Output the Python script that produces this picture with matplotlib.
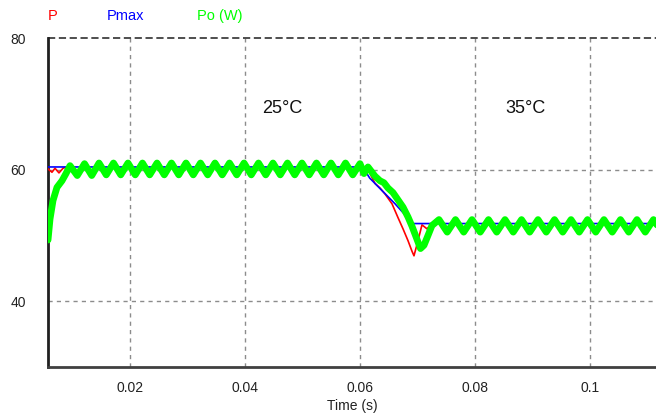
import matplotlib
matplotlib.use("Agg")
import matplotlib.pyplot as plt

# ---------------- data ----------------
series_names = ["P", "Pmax", "Po (W)"]
series_colors = ["#ff0000", "#0000ff", "#00ff00"]

t_po = [0.00574, 0.00609, 0.00661, 0.00730, 0.00817, 0.00887,
        0.00957, 0.01083, 0.01209, 0.01335, 0.01461, 0.01587, 0.01713, 0.01839,
        0.01965, 0.02091, 0.02217, 0.02343, 0.02470, 0.02596, 0.02722, 0.02848,
        0.02974, 0.03100, 0.03226, 0.03352, 0.03478, 0.03604, 0.03730, 0.03857,
        0.03983, 0.04109, 0.04235, 0.04361, 0.04487, 0.04613, 0.04739, 0.04865,
        0.04991, 0.05117, 0.05243, 0.05370, 0.05496, 0.05622, 0.05748, 0.05874,
        0.06000, 0.06070, 0.06139, 0.06261, 0.06348, 0.06417, 0.06487, 0.06574,
        0.06661, 0.06748, 0.06835, 0.06904, 0.06974, 0.07052, 0.07113, 0.07183,
        0.07252, 0.07374, 0.07517, 0.07661, 0.07804, 0.07948, 0.08091, 0.08235,
        0.08378, 0.08522, 0.08665, 0.08809, 0.08952, 0.09096, 0.09239, 0.09383,
        0.09526, 0.09670, 0.09813, 0.09957, 0.10100, 0.10243, 0.10387, 0.10530,
        0.10674, 0.10817, 0.10961, 0.11104, 0.11248]
po = [49.3, 52.5, 55.3, 57.3, 58.3, 59.4,
      60.6, 59.1, 60.9, 59.1, 61.0, 59.2, 61.0, 59.2,
      61.0, 59.2, 61.0, 59.2, 61.0, 59.2, 61.0, 59.2,
      61.0, 59.2, 61.0, 59.2, 61.0, 59.2, 61.0, 59.2,
      61.0, 59.2, 61.0, 59.2, 61.0, 59.2, 61.0, 59.2,
      61.0, 59.2, 61.0, 59.2, 61.0, 59.2, 61.0, 59.2,
      60.9, 59.4, 60.4, 59.0, 58.3, 58.0, 57.2, 56.5,
      55.4, 54.3, 52.8, 51.4, 49.8, 48.0, 48.5, 50.0,
      51.5, 52.4, 50.5, 52.4, 50.5, 52.4, 50.5, 52.4,
      50.5, 52.4, 50.5, 52.4, 50.5, 52.4, 50.5, 52.4,
      50.5, 52.4, 50.5, 52.4, 50.5, 52.4, 50.5, 52.4,
      50.5, 52.4, 50.5, 52.4, 50.5]

t_p = [0.00574, 0.00643, 0.00696, 0.00765, 0.00835,
       0.00957, 0.01083, 0.01209, 0.01335, 0.01461, 0.01587, 0.01713, 0.01839,
       0.01965, 0.02091, 0.02217, 0.02343, 0.02470, 0.02596, 0.02722, 0.02848,
       0.02974, 0.03100, 0.03226, 0.03352, 0.03478, 0.03604, 0.03730, 0.03857,
       0.03983, 0.04109, 0.04235, 0.04361, 0.04487, 0.04613, 0.04739, 0.04865,
       0.04991, 0.05117, 0.05243, 0.05370, 0.05496, 0.05622, 0.05748, 0.05874,
       0.06000, 0.06070, 0.06139, 0.06261, 0.06348, 0.06435, 0.06557, 0.06661,
       0.06748, 0.06835, 0.06904, 0.06939, 0.07009, 0.07078, 0.07165,
       0.07252, 0.07374, 0.07517, 0.07661, 0.07804, 0.07948, 0.08091, 0.08235,
       0.08378, 0.08522, 0.08665, 0.08809, 0.08952, 0.09096, 0.09239, 0.09383,
       0.09526, 0.09670, 0.09813, 0.09957, 0.10100, 0.10243, 0.10387, 0.10530,
       0.10674, 0.10817, 0.10961, 0.11104, 0.11248]
p = [60.1, 59.6, 60.2, 59.5, 60.2,
     60.6, 59.4, 60.8, 59.5, 60.8, 59.5, 60.8, 59.5,
     60.8, 59.5, 60.8, 59.5, 60.8, 59.5, 60.8, 59.5,
     60.8, 59.5, 60.8, 59.5, 60.8, 59.5, 60.8, 59.5,
     60.8, 59.5, 60.8, 59.5, 60.8, 59.5, 60.8, 59.4,
     60.8, 59.4, 60.8, 59.4, 60.8, 59.4, 60.8, 59.4,
     60.8, 59.6, 60.0, 57.9, 57.2, 56.3, 54.8, 52.7,
     51.0, 49.2, 47.6, 46.9, 49.2, 51.6, 51.0,
     51.8, 52.2, 50.9, 52.2, 50.9, 52.2, 50.9, 52.2,
     50.9, 52.2, 50.9, 52.2, 50.9, 52.2, 50.9, 52.2,
     50.9, 52.2, 50.9, 52.2, 50.9, 52.2, 50.9, 52.2,
     50.9, 52.2, 50.9, 52.2, 50.9]

t_pmax = [0.00574, 0.06000, 0.06090, 0.06170, 0.06610, 0.06920, 0.11248]
pmax = [60.4, 60.4, 59.8, 58.7, 54.8, 51.8, 51.8]

annot_labels = ["25°C", "35°C"]
annot_t = [0.0464, 0.0887]
annot_y = [69.3, 69.3]

xticks = [0.02, 0.04, 0.06, 0.08, 0.1]
xtick_labels = ["0.02", "0.04", "0.06", "0.08", "0.1"]
yticks = [40, 60, 80]
ytick_labels = ["40", "60", "80"]

# ---------------- figure ----------------
plt.rcParams['font.family'] = ['Liberation Sans', 'DejaVu Sans']
fig = plt.figure(figsize=(6.56, 4.16), dpi=100)
ax = fig.add_axes([48/656, 1 - 367/416, 1 - 48/656, (367 - 38)/416])

ax.set_xlim(0.00574, 0.11148)
ax.set_ylim(30, 80)

grid_kw = dict(color="#8c8c8c", linewidth=1.0, linestyle=(0, (3, 3)), zorder=1)
for xv in xticks:
    ax.axvline(xv, **grid_kw)
for yv in yticks[:-1]:
    ax.axhline(yv, **grid_kw)
ax.axhline(80, color="#404040", linewidth=1.3, linestyle=(0, (4, 2)), zorder=1, clip_on=False)

ax.plot(t_p, p, color=series_colors[0], linewidth=1.2, zorder=3)
ax.plot(t_pmax, pmax, color=series_colors[1], linewidth=1.2, zorder=4)
ax.plot(t_po, po, color=series_colors[2], linewidth=4.9, zorder=5,
        solid_joinstyle="round", solid_capstyle="round")

for lab, tx, ty in zip(annot_labels, annot_t, annot_y):
    ax.text(tx, ty, lab, ha="center", va="center", fontsize=13, color="#111111")

ax.set_xticks(xticks)
ax.set_xticklabels(xtick_labels)
ax.set_yticks(yticks)
ax.set_yticklabels(ytick_labels)
ax.tick_params(axis="both", length=0, labelsize=10, colors="#222222")
ax.tick_params(axis="x", pad=10)
ax.tick_params(axis="y", pad=16)
ax.set_xlabel("Time (s)", fontsize=10, color="#222222", labelpad=3)

ax.spines["top"].set_visible(False)
ax.spines["right"].set_visible(False)
ax.spines["left"].set_color("#202020")
ax.spines["left"].set_linewidth(2)
ax.spines["bottom"].set_color("#404040")
ax.spines["bottom"].set_linewidth(2)

legend_x = [48, 107, 197]
for name, col, lx in zip(series_names, series_colors, legend_x):
    fig.text(lx/656, 1 - 16/416, name, color=col, fontsize=10.5,
             ha="left", va="center")

fig.savefig("out.png", dpi=100)
